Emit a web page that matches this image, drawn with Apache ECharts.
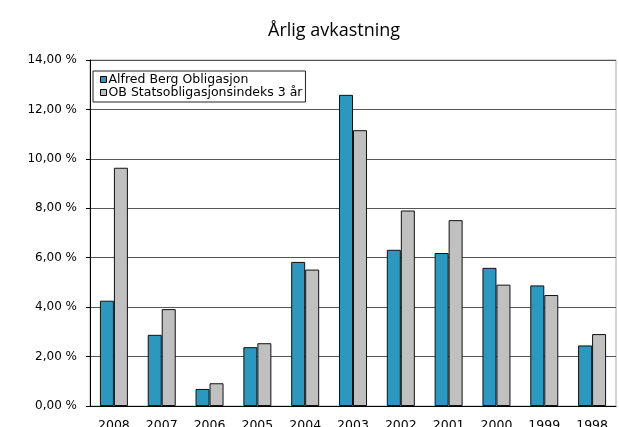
<!DOCTYPE html>
<html>
<head>
<meta charset="utf-8">
<script src="https://cdn.jsdelivr.net/npm/echarts@6/dist/echarts.min.js"></script>
<style>
  html, body { margin: 0; padding: 0; background: #fff; }
  #chart { width: 619px; height: 427px; }
</style>
</head>
<body>
<div id="chart"></div>
<script>
// år, nyeste først
const years = ['2008', '2007', '2006', '2005', '2004', '2003', '2002', '2001', '2000', '1999', '1998']
const fundReturns = [4.26, 2.88, 0.69, 2.38, 5.83, 12.59, 6.32, 6.19, 5.59, 4.88, 2.45]
const indexReturns = [9.64, 3.92, 0.92, 2.54, 5.52, 11.16, 7.91, 7.52, 4.91, 4.49, 2.91]
const seriesNames = ['Alfred Berg Obligasjon', 'OB Statsobligasjonsindeks 3 år']

const chart = echarts.init(document.getElementById('chart'))

const pct = v => v.toFixed(2).replace('.', ',') + ' %'
const labelFont = 'DejaVu Sans'

const option = {
  animation: false,
  title: {
    text: 'Årlig avkastning',
    left: 263,
    top: 17,
    textStyle: {
      fontFamily: 'Open Sans',
      fontSize: 18,
      fontWeight: 'normal',
      color: '#000'
    }
  },
  legend: {
    orient: 'vertical',
    left: 93,
    top: 71,
    padding: [2, 3, 3, 7],
    itemGap: 0,
    itemWidth: 6,
    itemHeight: 6,
    icon: 'rect',
    borderColor: '#222',
    borderWidth: 1,
    itemStyle: { borderColor: '#000', borderWidth: 1 },
    textStyle: {
      fontFamily: labelFont,
      fontSize: 12.5,
      color: '#000',
      padding: [0, 0, 0, -3]
    },
    data: seriesNames
  },
  grid: {
    left: 90,
    right: 3,
    top: 60,
    bottom: 21,
    outerBoundsMode: 'none',
    show: true,
    borderColor: '#aaa',
    borderWidth: 1
  },
  xAxis: {
    type: 'category',
    data: years,
    axisLine: { lineStyle: { color: '#000', width: 1 } },
    axisTick: { length: 4, lineStyle: { color: '#000' } },
    axisLabel: {
      fontFamily: labelFont,
      fontSize: 12.5,
      color: '#000',
      margin: 13
    }
  },
  yAxis: {
    type: 'value',
    min: 0,
    max: 14,
    interval: 2,
    axisLine: { show: true, lineStyle: { color: '#000', width: 1 } },
    axisTick: { show: true, length: 4, lineStyle: { color: '#000' } },
    splitLine: { lineStyle: { color: '#555', width: 1 } },
    axisLabel: {
      fontFamily: labelFont,
      fontSize: 12,
      color: '#000',
      margin: 13,
      formatter: pct
    }
  },
  series: [{
    name: seriesNames[0],
    type: 'bar',
    barWidth: 14,
    barGap: '0%',
    itemStyle: {
      color: '#2a98bf',
      borderColor: '#111',
      borderWidth: 1
    },
    data: fundReturns
  }, {
    name: seriesNames[1],
    type: 'bar',
    barWidth: 14,
    barGap: '0%',
    itemStyle: {
      color: '#c0c0c0',
      borderColor: '#111',
      borderWidth: 1
    },
    data: indexReturns
  }]
}

chart.setOption(option)
</script>
</body>
</html>
